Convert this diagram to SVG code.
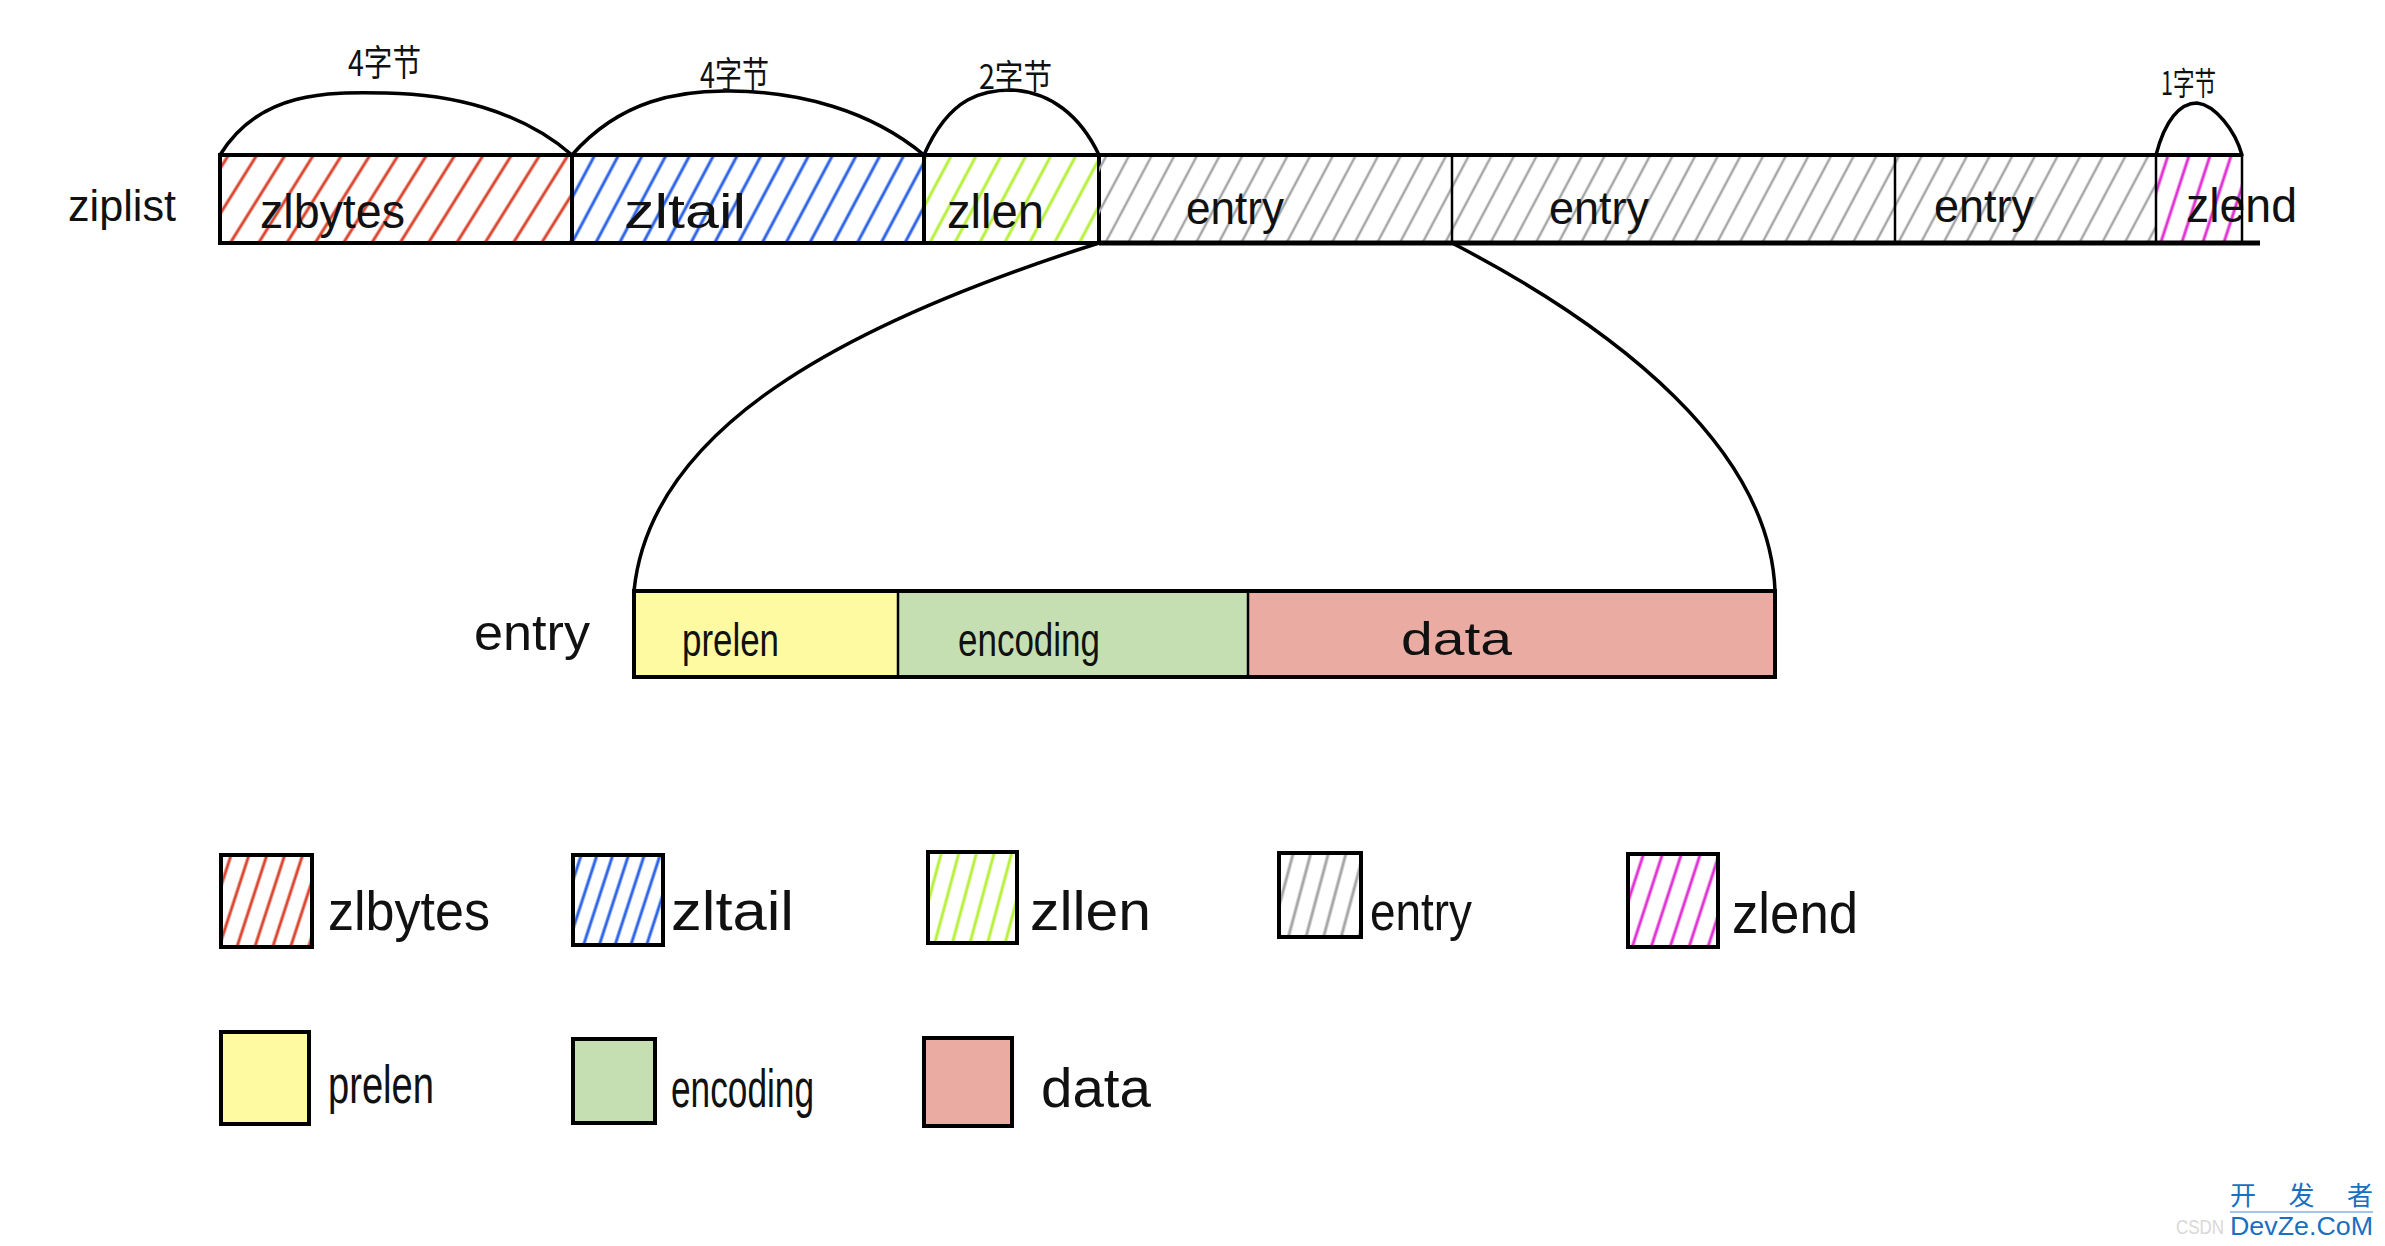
<svg xmlns="http://www.w3.org/2000/svg" width="2385" height="1246" viewBox="0 0 2385 1246">
<style>
.t{font-family:"Liberation Sans Narrow","Liberation Sans",Arial,sans-serif;fill:#111}
.cn{font-family:"Noto Sans CJK SC","Noto Sans",sans-serif;fill:#111}
.box{stroke:#000;stroke-width:4;fill:none}
.line{stroke:#000;stroke-width:3.5;fill:none;stroke-linecap:round}
.thin{stroke:#000;stroke-width:2.5;fill:none}
</style>
<defs>
<pattern id="hr" width="24" height="24" patternUnits="userSpaceOnUse" patternTransform="rotate(32)"><line x1="12" y1="0" x2="12" y2="24" stroke="#d9452e" stroke-width="3"/></pattern>
<pattern id="hb" width="21" height="24" patternUnits="userSpaceOnUse" patternTransform="rotate(28)"><line x1="10" y1="0" x2="10" y2="24" stroke="#2d63e6" stroke-width="3"/></pattern>
<pattern id="hg" width="22" height="24" patternUnits="userSpaceOnUse" patternTransform="rotate(28)"><line x1="11" y1="0" x2="11" y2="24" stroke="#b6f03a" stroke-width="3"/></pattern>
<pattern id="hy" width="20" height="24" patternUnits="userSpaceOnUse" patternTransform="rotate(28)"><line x1="10" y1="0" x2="10" y2="24" stroke="#a6a6a6" stroke-width="2.5"/></pattern>
<pattern id="hm" width="20" height="24" patternUnits="userSpaceOnUse" patternTransform="rotate(18)"><line x1="10" y1="0" x2="10" y2="24" stroke="#e032d2" stroke-width="3"/></pattern>
<pattern id="lr" width="17" height="24" patternUnits="userSpaceOnUse" patternTransform="rotate(18)"><line x1="8" y1="0" x2="8" y2="24" stroke="#d9452e" stroke-width="3"/></pattern>
<pattern id="lb" width="15" height="24" patternUnits="userSpaceOnUse" patternTransform="rotate(18)"><line x1="7" y1="0" x2="7" y2="24" stroke="#2d63e6" stroke-width="3"/></pattern>
<pattern id="lg" width="17" height="24" patternUnits="userSpaceOnUse" patternTransform="rotate(15)"><line x1="8" y1="0" x2="8" y2="24" stroke="#b6f03a" stroke-width="3"/></pattern>
<pattern id="ly" width="17" height="24" patternUnits="userSpaceOnUse" patternTransform="rotate(15)"><line x1="8" y1="0" x2="8" y2="24" stroke="#a6a6a6" stroke-width="3"/></pattern>
<pattern id="lm" width="18" height="24" patternUnits="userSpaceOnUse" patternTransform="rotate(18)"><line x1="9" y1="0" x2="9" y2="24" stroke="#e032d2" stroke-width="3"/></pattern>
</defs>
<rect width="2385" height="1246" fill="#fff"/>

<text class="t" x="68" y="221" font-size="44" textLength="108" lengthAdjust="spacingAndGlyphs">ziplist</text>

<g id="zlbytes">
<rect x="220" y="155" width="352" height="88" fill="url(#hr)"/>
<rect class="box" x="220" y="155" width="352" height="88"/>
<text class="t" x="260" y="228" font-size="48" textLength="145" lengthAdjust="spacingAndGlyphs">zlbytes</text>
</g>
<g id="zltail">
<rect x="572" y="155" width="352" height="88" fill="url(#hb)"/>
<rect class="box" x="572" y="155" width="352" height="88"/>
<text class="t" x="624" y="228" font-size="48" textLength="122" lengthAdjust="spacingAndGlyphs">zltail</text>
</g>
<g id="zllen">
<rect x="924" y="155" width="175" height="88" fill="url(#hg)"/>
<rect class="box" x="924" y="155" width="175" height="88"/>
<text class="t" x="947" y="228" font-size="48" textLength="97" lengthAdjust="spacingAndGlyphs">zllen</text>
</g>
<g id="entry1">
<rect x="1099" y="155" width="353" height="88" fill="url(#hy)"/>
<text class="t" x="1186" y="224" font-size="46" textLength="98" lengthAdjust="spacingAndGlyphs">entry</text>
</g>
<g id="entry2">
<rect x="1452" y="155" width="443" height="88" fill="url(#hy)"/>
<text class="t" x="1549" y="224" font-size="46" textLength="100" lengthAdjust="spacingAndGlyphs">entry</text>
</g>
<g id="entry3">
<rect x="1895" y="155" width="261" height="88" fill="url(#hy)"/>
<text class="t" x="1934" y="222" font-size="46" textLength="100" lengthAdjust="spacingAndGlyphs">entry</text>
</g>
<g id="zlend">
<rect x="2156" y="155" width="86" height="88" fill="url(#hm)"/>
<text class="t" x="2186" y="222" font-size="48" textLength="111" lengthAdjust="spacingAndGlyphs">zlend</text>
</g>
<g id="bar-outline">
<line class="box" x1="1099" y1="155" x2="2242" y2="155"/>
<line x1="1099" y1="243" x2="2260" y2="243" stroke="#000" stroke-width="5"/>
<line class="thin" x1="1452" y1="155" x2="1452" y2="243"/>
<line class="thin" x1="1895" y1="155" x2="1895" y2="243"/>
<line class="thin" x1="2156" y1="155" x2="2156" y2="243"/>
<line class="thin" x1="2242" y1="155" x2="2242" y2="243"/>
</g>

<g id="sizes">
<path class="line" d="M220,155 C260,90 330,92 386,93 C450,94 520,110 572,155"/>
<path class="line" d="M572,155 C620,100 680,90 731,91 C800,92 870,110 924,155"/>
<path class="line" d="M924,155 C950,95 985,90 1012,90 C1050,92 1080,115 1099,155"/>
<path class="line" d="M2156,155 C2165,120 2180,103 2197,103 C2215,105 2235,130 2242,155"/>
<text class="cn" x="348" y="76" font-size="36" textLength="73" lengthAdjust="spacingAndGlyphs">4字节</text>
<text class="cn" x="700" y="88" font-size="36" textLength="69" lengthAdjust="spacingAndGlyphs">4字节</text>
<text class="cn" x="979" y="89" font-size="34" textLength="73" lengthAdjust="spacingAndGlyphs">2字节</text>
<text class="cn" x="2161" y="95" font-size="32" textLength="55" lengthAdjust="spacingAndGlyphs">1字节</text>
</g>

<g id="connectors">
<path class="line" d="M1099,243 C840,325 650,430 634,591"/>
<path class="line" d="M1452,243 C1620,330 1770,450 1775,591"/>
</g>

<text class="t" x="474" y="650" font-size="50" textLength="116" lengthAdjust="spacingAndGlyphs">entry</text>
<g id="prelen">
<rect x="634" y="591" width="264" height="86" fill="#fdfaa2"/>
<text class="t" x="682" y="656" font-size="46" textLength="97" lengthAdjust="spacingAndGlyphs">prelen</text>
</g>
<g id="encoding">
<rect x="898" y="591" width="350" height="86" fill="#c5dfb3"/>
<text class="t" x="958" y="656" font-size="46" textLength="142" lengthAdjust="spacingAndGlyphs">encoding</text>
</g>
<g id="data">
<rect x="1248" y="591" width="527" height="86" fill="#eaaba3"/>
<text class="t" x="1401" y="655" font-size="46" textLength="111" lengthAdjust="spacingAndGlyphs">data</text>
</g>
<g id="entry-outline">
<rect class="box" x="634" y="591" width="1141" height="86"/>
<line class="thin" x1="898" y1="591" x2="898" y2="677"/>
<line class="thin" x1="1248" y1="591" x2="1248" y2="677"/>
</g>

<g id="legend-zlbytes">
<rect x="221" y="855" width="91" height="92" fill="url(#lr)" stroke="#000" stroke-width="4"/>
<text class="t" x="328" y="930" font-size="56" textLength="162" lengthAdjust="spacingAndGlyphs">zlbytes</text>
</g>
<g id="legend-zltail">
<rect x="573" y="855" width="90" height="90" fill="url(#lb)" stroke="#000" stroke-width="4"/>
<text class="t" x="671" y="930" font-size="56" textLength="123" lengthAdjust="spacingAndGlyphs">zltail</text>
</g>
<g id="legend-zllen">
<rect x="928" y="852" width="89" height="91" fill="url(#lg)" stroke="#000" stroke-width="4"/>
<text class="t" x="1030" y="930" font-size="56" textLength="121" lengthAdjust="spacingAndGlyphs">zllen</text>
</g>
<g id="legend-entry">
<rect x="1279" y="853" width="82" height="84" fill="url(#ly)" stroke="#000" stroke-width="4"/>
<text class="t" x="1370" y="930" font-size="54" textLength="102" lengthAdjust="spacingAndGlyphs">entry</text>
</g>
<g id="legend-zlend">
<rect x="1628" y="854" width="90" height="93" fill="url(#lm)" stroke="#000" stroke-width="4"/>
<text class="t" x="1732" y="933" font-size="58" textLength="126" lengthAdjust="spacingAndGlyphs">zlend</text>
</g>
<g id="legend-prelen">
<rect x="221" y="1032" width="88" height="92" fill="#fdfaa2" stroke="#000" stroke-width="4"/>
<text class="t" x="328" y="1103" font-size="54" textLength="106" lengthAdjust="spacingAndGlyphs">prelen</text>
</g>
<g id="legend-encoding">
<rect x="573" y="1039" width="82" height="84" fill="#c5dfb3" stroke="#000" stroke-width="4"/>
<text class="t" x="671" y="1107" font-size="54" textLength="143" lengthAdjust="spacingAndGlyphs">encoding</text>
</g>
<g id="legend-data">
<rect x="924" y="1038" width="88" height="88" fill="#eaaba3" stroke="#000" stroke-width="4"/>
<text class="t" x="1041" y="1107" font-size="56" textLength="110" lengthAdjust="spacingAndGlyphs">data</text>
</g>

<g id="watermark">
<text x="2176" y="1234" font-family="Liberation Sans,Arial,sans-serif" font-size="20" fill="#d8d8d8" textLength="48" lengthAdjust="spacingAndGlyphs">CSDN</text>
<text x="2230" y="1205" font-family="Noto Sans CJK SC,sans-serif" font-size="26" fill="#1a6fc0" textLength="143" lengthAdjust="spacing">开发者</text>
<line x1="2230" y1="1212" x2="2373" y2="1212" stroke="#4a8ad0" stroke-width="1"/>
<text x="2230" y="1235" font-family="Liberation Sans,Arial,sans-serif" font-size="26" fill="#1a6fc0" textLength="143" lengthAdjust="spacingAndGlyphs">DevZe.CoM</text>
</g>
</svg>
